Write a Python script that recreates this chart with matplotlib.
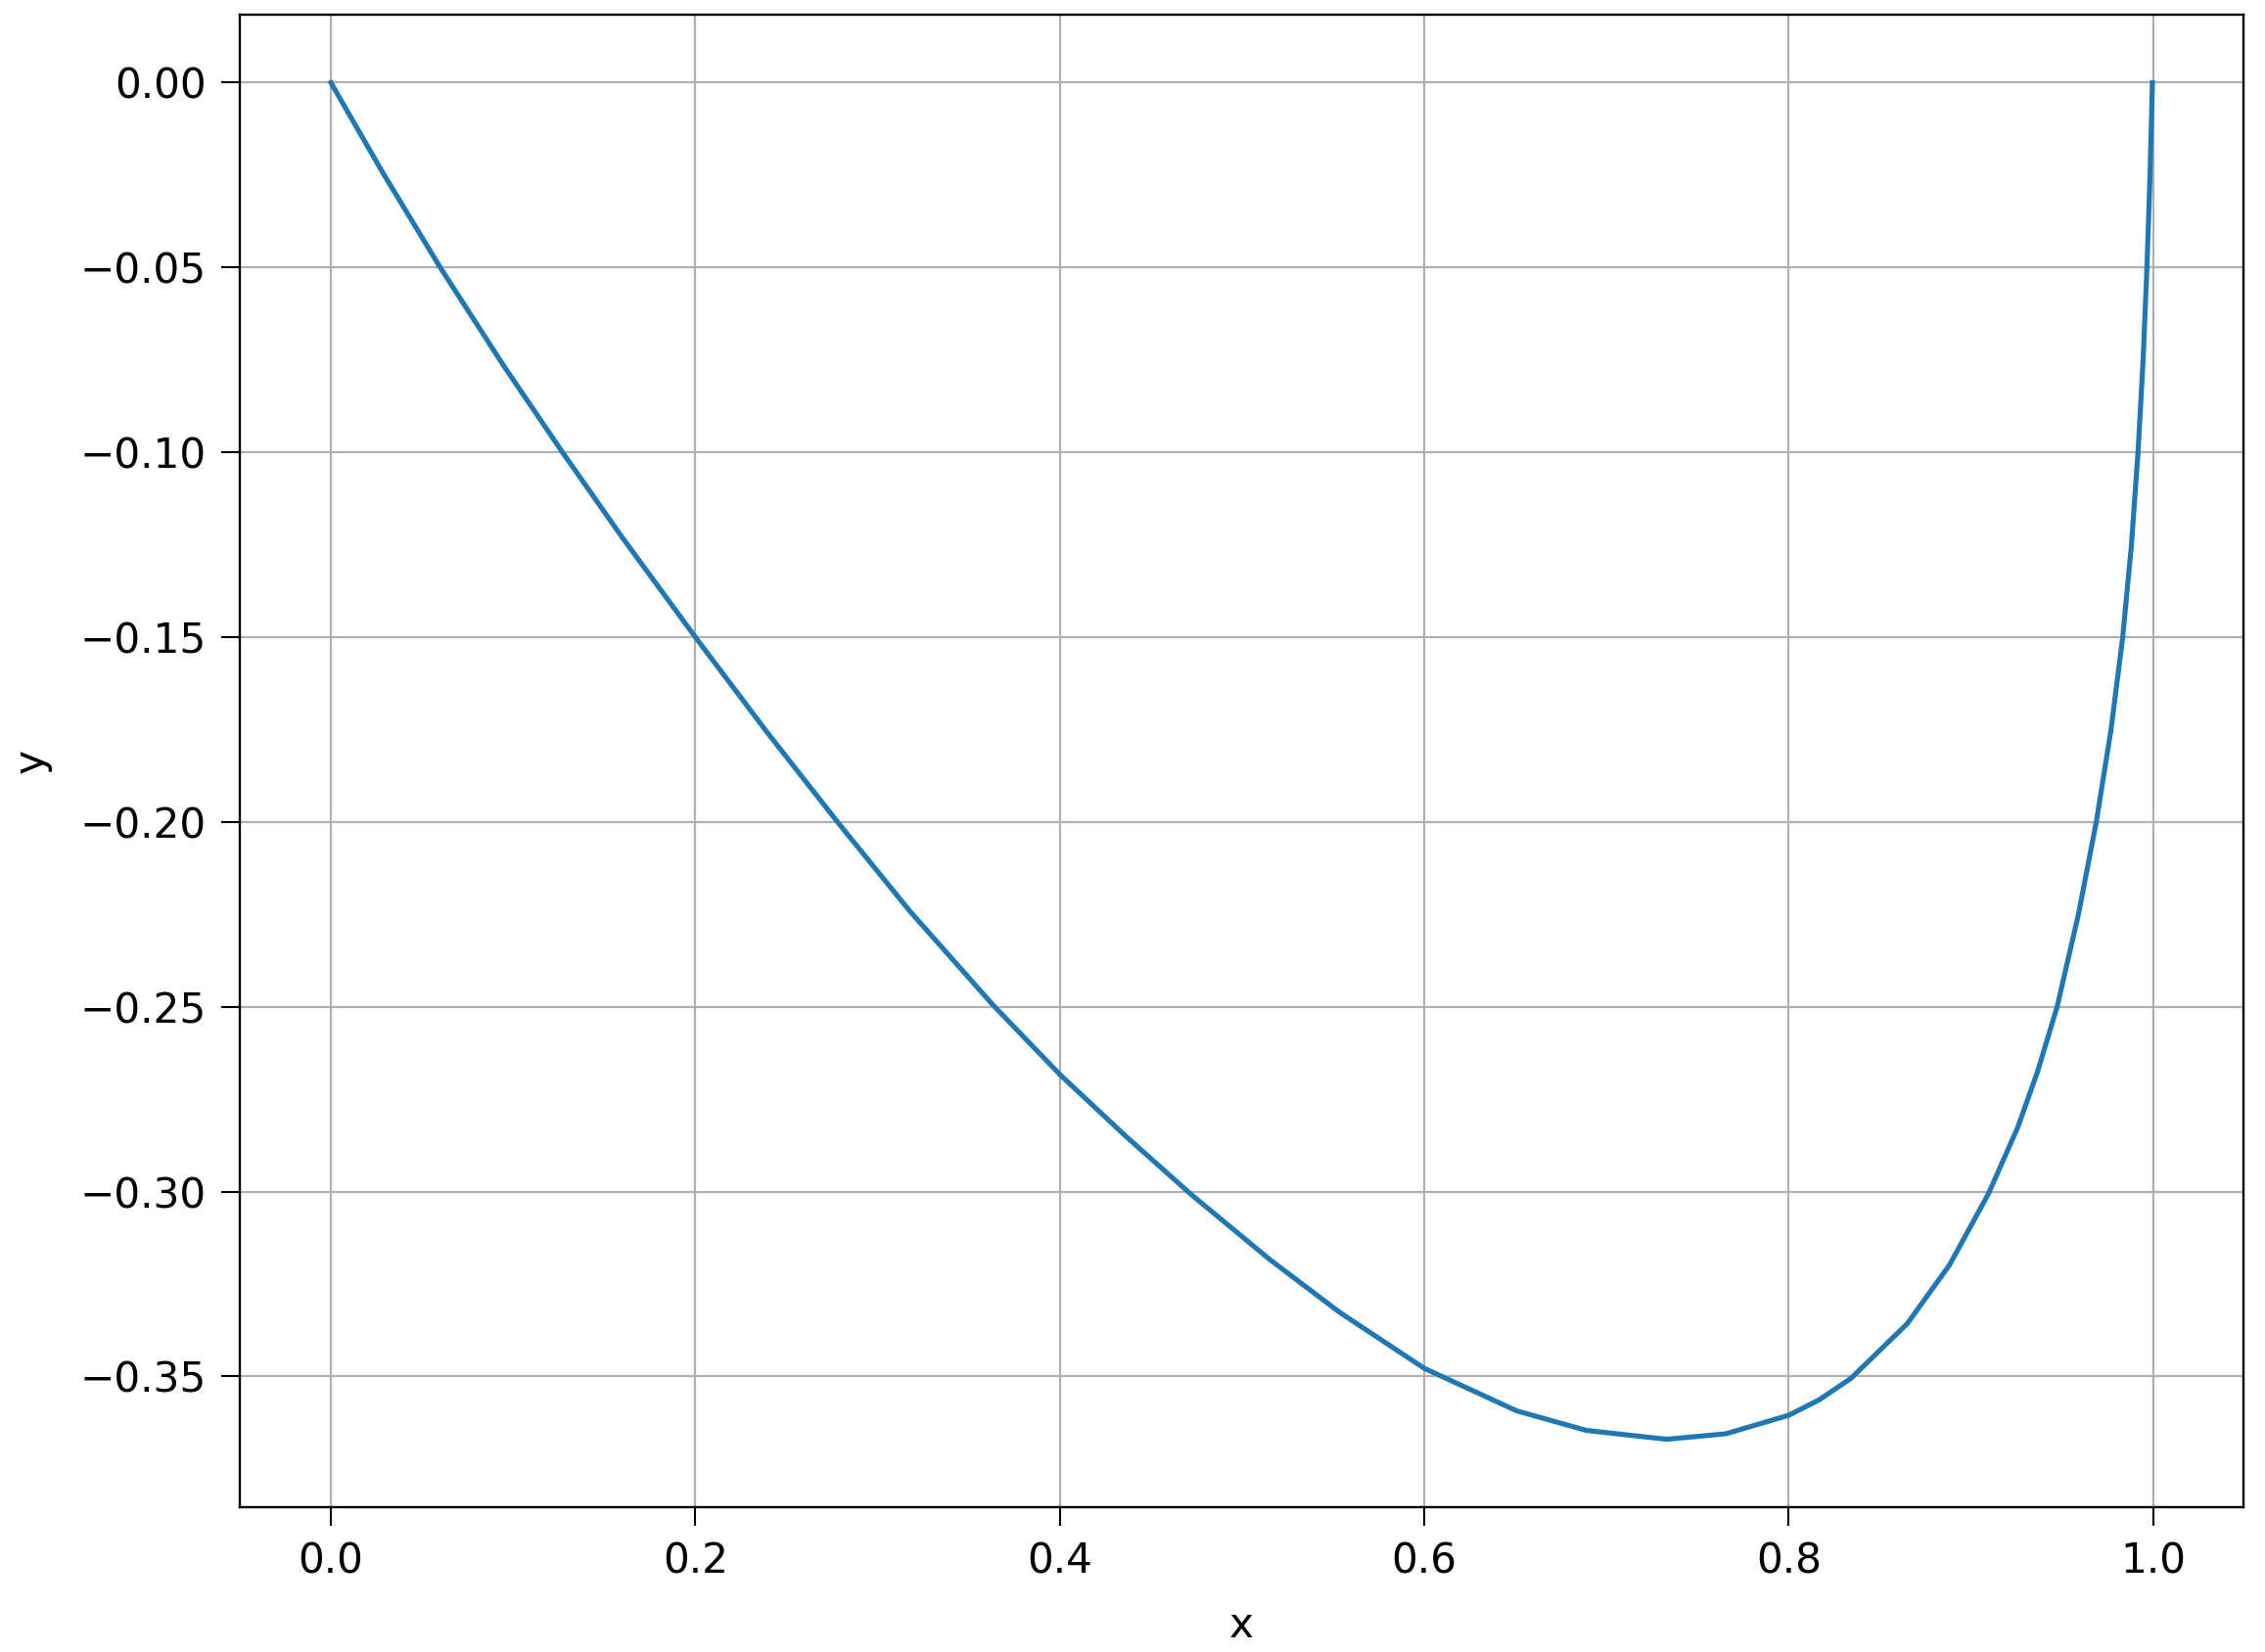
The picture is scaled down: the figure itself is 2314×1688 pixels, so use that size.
import matplotlib
matplotlib.use("Agg")
import matplotlib.pyplot as plt

# Values
x_vals = [0.0, 0.0284, 0.0600, 0.0947, 0.1271, 0.1597, 0.2, 0.239, 0.278,
          0.3175, 0.3633, 0.4, 0.4364, 0.4724, 0.5153, 0.5537, 0.6, 0.6507,
          0.689, 0.733, 0.7656, 0.8, 0.8168, 0.8342, 0.8651, 0.8883, 0.9097,
          0.9258, 0.9366, 0.9473, 0.9590, 0.9688, 0.9769, 0.9833, 0.9881,
          0.9917, 0.9945, 0.9966, 0.9983, 0.9996]
y_vals = [0.0, -0.0243, -0.05, -0.0765, -0.10, -0.1229, -0.15, -0.1755, -0.20,
          -0.2240, -0.2495, -0.2683, -0.2851, -0.3009, -0.3184, -0.3327, -0.3478,
          -0.3593, -0.3646, -0.3670, -0.3655, -0.3605, -0.3563, -0.3505, -0.3357,
          -0.3198, -0.3005, -0.2825, -0.2675, -0.25, -0.225, -0.20, -0.175, -0.15,
          -0.125, -0.10, -0.075, -0.05, -0.025, 0.0]

x_ticks = [0.0, 0.2, 0.4, 0.6, 0.8, 1.0]
y_ticks = [0.00, -0.05, -0.10, -0.15, -0.20, -0.25, -0.30, -0.35]

DPI = 100
fig = plt.figure(figsize=(2314 / DPI, 1688 / DPI), dpi=DPI)
ax = fig.add_axes([0.1059, 0.0877, 0.9905 - 0.1059, 0.991 - 0.0877])

ax.plot(x_vals, y_vals, color="#1f77b4", linewidth=3.7,
        solid_joinstyle="round")
ax.set_xticks(x_ticks)
ax.set_yticks(y_ticks)
ax.set_xticklabels([f"{v:.1f}" for v in x_ticks])
ax.set_yticklabels([f"{v:.2f}".replace("-", "\u2212") for v in y_ticks])
ax.grid(True, color="#b0b0b0", linewidth=1.6)
ax.tick_params(labelsize=30.4, length=13.7, width=1.5, pad=11)
for s in ax.spines.values():
    s.set_linewidth(1.7)
ax.set_xlabel("x", fontsize=30.4, labelpad=17)
ax.set_ylabel("y", fontsize=30.4, labelpad=21)
ax.margins(x=0.05, y=0.05)

fig.savefig("out.png", dpi=DPI)
